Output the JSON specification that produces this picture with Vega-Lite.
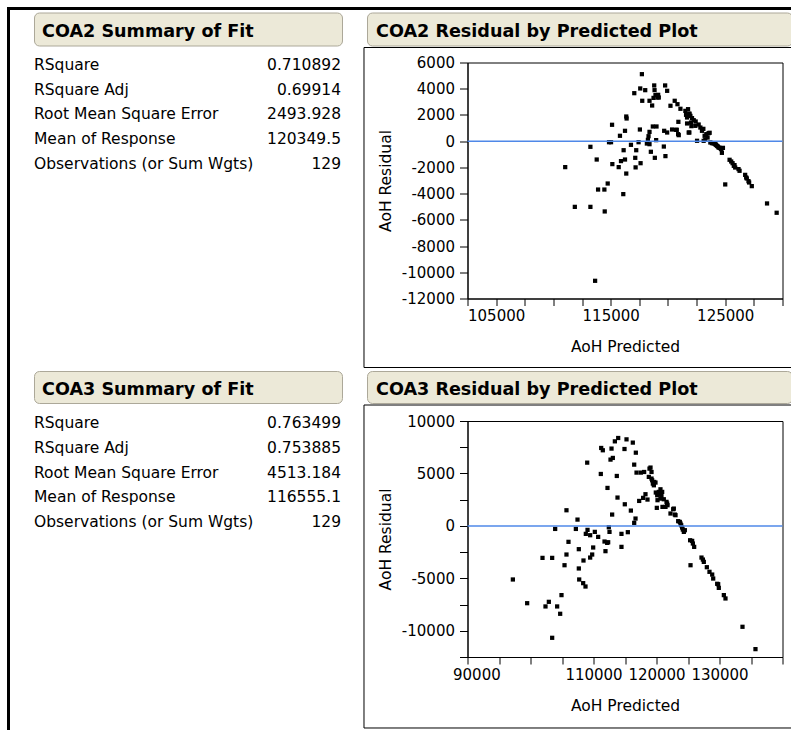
{
  "$schema": "https://vega.github.io/schema/vega-lite/v6.json",
  "padding": {"left": 7, "top": 7, "right": 0, "bottom": 0},
  "autosize": {"type": "pad"},
  "background": "white",
  "config": {
    "font": "DejaVu Sans",
    "view": {"stroke": null},
    "axis": {
      "labelFont": "DejaVu Sans", "labelFontSize": 15, "labelColor": "black",
      "titleFont": "DejaVu Sans", "titleFontSize": 15.5, "titleFontWeight": "normal", "titleColor": "black",
      "domainColor": "black", "tickColor": "black", "grid": false, "labelOverlap": false
    },
    "text": {"font": "DejaVu Sans", "color": "black"}
  },
  "datasets": {
    "fit2": [
      {"stat": "RSquare", "value": "0.710892"},
      {"stat": "RSquare Adj", "value": "0.69914"},
      {"stat": "Root Mean Square Error", "value": "2493.928"},
      {"stat": "Mean of Response", "value": "120349.5"},
      {"stat": "Observations (or Sum Wgts)", "value": "129"}
    ],
    "fit3": [
      {"stat": "RSquare", "value": "0.763499"},
      {"stat": "RSquare Adj", "value": "0.753885"},
      {"stat": "Root Mean Square Error", "value": "4513.184"},
      {"stat": "Mean of Response", "value": "116555.1"},
      {"stat": "Observations (or Sum Wgts)", "value": "129"}
    ],
    "coa2": [
      {"pred":111030,"resid":-1980},{"pred":111870,"resid":-5010},{"pred":113230,"resid":-430},{"pred":113230,"resid":-5010},
      {"pred":113640,"resid":-10650},{"pred":113780,"resid":-1400},{"pred":113900,"resid":-3690},{"pred":114450,"resid":-3690},
      {"pred":114480,"resid":-5360},{"pred":114740,"resid":-3230},{"pred":114855,"resid":-80},{"pred":115030,"resid":-80},
      {"pred":115120,"resid":1250},{"pred":115145,"resid":-1750},{"pred":115700,"resid":-1980},{"pred":115810,"resid":410},
      {"pred":115900,"resid":-1520},{"pred":116100,"resid":-4040},{"pred":116130,"resid":-690},{"pred":116250,"resid":790},
      {"pred":116250,"resid":-1400},{"pred":116360,"resid":1880},{"pred":116390,"resid":1730},{"pred":116360,"resid":-2470},
      {"pred":116770,"resid":-280},{"pred":117060,"resid":3660},{"pred":117145,"resid":-1270},{"pred":117175,"resid":-2000},
      {"pred":117230,"resid":-690},{"pred":117435,"resid":-80},{"pred":117550,"resid":890},{"pred":117610,"resid":-1680},
      {"pred":117580,"resid":4020},{"pred":117725,"resid":5110},{"pred":117755,"resid":3080},{"pred":118015,"resid":3890},
      {"pred":118160,"resid":-180},{"pred":118250,"resid":100},{"pred":118305,"resid":380},{"pred":118390,"resid":710},
      {"pred":118390,"resid":3080},{"pred":118390,"resid":-230},{"pred":118507,"resid":-810},{"pred":118620,"resid":2720},
      {"pred":118680,"resid":1120},{"pred":118740,"resid":3300},{"pred":118800,"resid":4250},{"pred":118830,"resid":3890},
      {"pred":118855,"resid":-1270},{"pred":118910,"resid":3510},{"pred":118970,"resid":80},{"pred":119000,"resid":1120},
      {"pred":119090,"resid":3330},{"pred":119145,"resid":3535},{"pred":119200,"resid":3330},{"pred":119640,"resid":-410},
      {"pred":119670,"resid":790},{"pred":119755,"resid":4250},{"pred":119780,"resid":-1140},{"pred":119930,"resid":3840},
      {"pred":119930,"resid":660},{"pred":120220,"resid":2700},{"pred":120360,"resid":890},{"pred":120590,"resid":3080},
      {"pred":120770,"resid":865},{"pred":120830,"resid":2820},{"pred":120910,"resid":1475},{"pred":120885,"resid":535},
      {"pred":121090,"resid":2470},{"pred":121520,"resid":2310},{"pred":121580,"resid":2010},{"pred":121755,"resid":2440},
      {"pred":121670,"resid":1350},{"pred":121810,"resid":660},{"pred":121870,"resid":2110},{"pred":121960,"resid":1930},
      {"pred":122015,"resid":1420},{"pred":122100,"resid":1755},{"pred":122045,"resid":1145},{"pred":122250,"resid":1600},
      {"pred":122540,"resid":30},{"pred":122420,"resid":1500},{"pred":122680,"resid":1270},{"pred":122830,"resid":1040},
      {"pred":122970,"resid":790},{"pred":123090,"resid":940},{"pred":123200,"resid":410},{"pred":123260,"resid":100},
      {"pred":123350,"resid":535},{"pred":123460,"resid":280},{"pred":123640,"resid":640},{"pred":123700,"resid":-100},
      {"pred":123990,"resid":-180},{"pred":124190,"resid":-280},{"pred":124360,"resid":-410},{"pred":124510,"resid":-510},
      {"pred":124620,"resid":-580},{"pred":124710,"resid":-890},{"pred":124800,"resid":-510},{"pred":125000,"resid":-3300},
      {"pred":125380,"resid":-1420},{"pred":125520,"resid":-1550},{"pred":125640,"resid":-1680},{"pred":125750,"resid":-1880},
      {"pred":125870,"resid":-2010},{"pred":126160,"resid":-2130},{"pred":126250,"resid":-2260},{"pred":126740,"resid":-2570},
      {"pred":126830,"resid":-2770},{"pred":127030,"resid":-3050},{"pred":127320,"resid":-3430},{"pred":128650,"resid":-4750},
      {"pred":129490,"resid":-5460},
      {"pred":121667,"resid":1806},{"pred":122391,"resid":1170},{"pred":123551,"resid":611},{"pred":124652,"resid":-609},
      {"pred":124130,"resid":-228},{"pred":125812,"resid":-1829},{"pred":126884,"resid":-2846},{"pred":127087,"resid":-3151},
      {"pred":120710,"resid":865},{"pred":120942,"resid":458},{"pred":121870,"resid":660},{"pred":123116,"resid":26},
      {"pred":123841,"resid":-152},{"pred":124275,"resid":-355},{"pred":124420,"resid":-482},{"pred":121870,"resid":2060}
    ],
    "coa3": [
      {"pred":97200,"resid":-5110},{"pred":99470,"resid":-7370},{"pred":101905,"resid":-3050},{"pred":102380,"resid":-7680},
      {"pred":102910,"resid":-7240},{"pred":103440,"resid":-3050},{"pred":103440,"resid":-10670},{"pred":103915,"resid":-290},
      {"pred":104230,"resid":-7680},{"pred":104710,"resid":-8380},{"pred":104920,"resid":-6600},{"pred":105400,"resid":-3750},
      {"pred":105710,"resid":1490},{"pred":105710,"resid":-2730},{"pred":106030,"resid":-1520},{"pred":107200,"resid":-290},
      {"pred":107460,"resid":600},{"pred":107670,"resid":-2220},{"pred":107670,"resid":-4060},{"pred":107730,"resid":-5110},
      {"pred":108360,"resid":-5460},{"pred":108410,"resid":-3300},{"pred":108730,"resid":-5780},{"pred":108780,"resid":-760},
      {"pred":109000,"resid":6030},{"pred":109050,"resid":-380},{"pred":109470,"resid":-890},{"pred":109470,"resid":-3020},
      {"pred":109790,"resid":-2730},{"pred":109950,"resid":-2060},{"pred":110210,"resid":-570},{"pred":110740,"resid":-1050},
      {"pred":111160,"resid":4950},{"pred":111220,"resid":7430},{"pred":111480,"resid":7210},{"pred":111750,"resid":-1490},
      {"pred":111900,"resid":-2410},{"pred":112220,"resid":3620},{"pred":112330,"resid":-1560},{"pred":112430,"resid":-130},
      {"pred":112540,"resid":-570},{"pred":112700,"resid":6320},{"pred":112860,"resid":7370},{"pred":112960,"resid":1080},
      {"pred":113070,"resid":6480},{"pred":113390,"resid":8060},{"pred":113700,"resid":4760},{"pred":113810,"resid":2700},
      {"pred":113920,"resid":8380},{"pred":114440,"resid":-760},{"pred":114440,"resid":-2000},{"pred":114920,"resid":7330},
      {"pred":114970,"resid":2060},{"pred":115240,"resid":8250},{"pred":115450,"resid":-600},{"pred":115930,"resid":1460},
      {"pred":116240,"resid":7940},{"pred":116460,"resid":5840},{"pred":116460,"resid":290},{"pred":116670,"resid":700},
      {"pred":116720,"resid":6980},{"pred":116830,"resid":5080},{"pred":117250,"resid":2380},{"pred":117510,"resid":5080},
      {"pred":117880,"resid":2670},{"pred":118040,"resid":5140},{"pred":118250,"resid":3020},{"pred":118570,"resid":2510},
      {"pred":118890,"resid":5460},{"pred":118780,"resid":4670},{"pred":119210,"resid":5140},{"pred":119210,"resid":4510},
      {"pred":119420,"resid":4030},{"pred":119630,"resid":4190},{"pred":119840,"resid":4130},{"pred":119890,"resid":3180},
      {"pred":120050,"resid":1720},{"pred":120160,"resid":2450},{"pred":120270,"resid":3080},{"pred":120480,"resid":2990},
      {"pred":120630,"resid":3490},{"pred":120790,"resid":2860},{"pred":120950,"resid":1810},{"pred":121160,"resid":2540},
      {"pred":121430,"resid":1810},{"pred":121590,"resid":2290},{"pred":121750,"resid":1970},{"pred":122220,"resid":1180},
      {"pred":122650,"resid":1590},{"pred":122910,"resid":1080},{"pred":123440,"resid":450},{"pred":123700,"resid":380},
      {"pred":123920,"resid":60},{"pred":124070,"resid":-160},{"pred":124180,"resid":-350},{"pred":124340,"resid":-570},
      {"pred":124500,"resid":-410},{"pred":125340,"resid":-1370},{"pred":125660,"resid":-1430},{"pred":125770,"resid":-1680},
      {"pred":125980,"resid":-2000},{"pred":125400,"resid":-3750},{"pred":127140,"resid":-3020},{"pred":127360,"resid":-3210},
      {"pred":127510,"resid":-3430},{"pred":127990,"resid":-3940},{"pred":128410,"resid":-4380},{"pred":128840,"resid":-4640},
      {"pred":129000,"resid":-5020},{"pred":129630,"resid":-5520},{"pred":129890,"resid":-5910},{"pred":130690,"resid":-6600},
      {"pred":130950,"resid":-6920},{"pred":133650,"resid":-9620},{"pred":135710,"resid":-11750},
      {"pred":112170,"resid":-1620},{"pred":120370,"resid":3240},{"pred":120900,"resid":3240},{"pred":120110,"resid":2920},
      {"pred":120630,"resid":2600},{"pred":121690,"resid":2130},{"pred":122750,"resid":1650},{"pred":123020,"resid":1020},
      {"pred":123810,"resid":220},{"pred":129790,"resid":-5560},{"pred":119050,"resid":5560},{"pred":119580,"resid":3870},
      {"pred":119310,"resid":4350}
    ]
  },
  "spacing": 0,
  "hconcat": [
    {"width": 3, "height": 723, "view": {"fill": "black", "stroke": null},
     "data": {"values": []}, "mark": "point", "encoding": {}},
    {
      "vconcat": [
        {"width": 781, "height": 3, "view": {"fill": "black", "stroke": null},
         "data": {"values": []}, "mark": "point", "encoding": {}},
        {
          "hconcat": [
            {"width": 22.5, "height": 1, "data": {"values": []}, "mark": "point", "encoding": {}},
            {
              "vconcat": [
                {
                  "vconcat": [
                    {
                      "hconcat": [
                        {"width": 308, "height": 33,
                         "view": {"fill": "#ECE9D8", "stroke": "#ACA899", "cornerRadius": 5},
                         "data": {"values": [{"title": "COA2 Summary of Fit"}]},
                         "mark": {"type": "text", "align": "left", "baseline": "alphabetic", "fontWeight": "bold", "fontSize": 17.6},
                         "encoding": {"text": {"field": "title"}, "x": {"value": 8}, "y": {"value": 24}}},
                        {"width": 425, "height": 33,
                         "view": {"fill": "#ECE9D8", "stroke": "#ACA899", "cornerRadius": 5},
                         "data": {"values": [{"title": "COA2 Residual by Predicted Plot"}]},
                         "mark": {"type": "text", "align": "left", "baseline": "alphabetic", "fontWeight": "bold", "fontSize": 17.6},
                         "encoding": {"text": {"field": "title"}, "x": {"value": 9}, "y": {"value": 24}}}
                      ],
                      "spacing": 23
                    },
                    {
                      "hconcat": [
                        {"width": 308, "height": 125,
                         "data": {"name": "fit2"},
                         "layer": [
                           {"mark": {"type": "text", "align": "left", "baseline": "middle", "fontSize": 15.5},
                            "encoding": {
                              "x": {"datum": "label", "type": "nominal", "scale": {"type": "point", "domain": ["label", "value"], "range": [0, 307], "padding": 0}, "axis": null},
                              "y": {"field": "stat", "type": "nominal", "sort": null, "scale": {"type": "point", "range": [2.3, 101.3], "padding": 0}, "axis": null},
                              "text": {"field": "stat"}}},
                           {"mark": {"type": "text", "align": "right", "baseline": "middle", "fontSize": 15.5},
                            "encoding": {
                              "x": {"datum": "value", "type": "nominal"},
                              "y": {"field": "stat", "type": "nominal", "sort": null},
                              "text": {"field": "value"}}}
                         ]},
                        {"width": 315, "height": 236,
                         "view": {"stroke": "black", "strokeWidth": 1},
                         "layer": [
                           {"data": {"name": "coa2"},
                            "mark": {"type": "square", "size": 18, "color": "black", "opacity": 1},
                            "encoding": {
                              "x": {"field": "pred", "type": "quantitative",
                                    "scale": {"domain": [102500, 130000], "nice": false, "zero": false},
                                    "axis": {"title": "AoH Predicted", "values": [102500,105000,107500,110000,112500,115000,117500,120000,122500,125000,127500,130000],
                                             "labelExpr": "datum.value == 105000 || datum.value == 115000 || datum.value == 125000 ? '' + datum.value : ''",
                                             "tickSize": 7, "labelPadding": 3, "titlePadding": 16, "labelFlush": false}},
                              "y": {"field": "resid", "type": "quantitative",
                                    "scale": {"domain": [-12000, 6000], "nice": false, "zero": false},
                                    "axis": {"title": "AoH Residual", "values": [-12000,-10000,-8000,-6000,-4000,-2000,0,2000,4000,6000],
                                             "labelExpr": "'' + datum.value",
                                             "tickSize": 8, "labelPadding": 5, "titlePadding": 8, "labelFlush": false}}}},
                           {"data": {"values": [{}]},
                            "mark": {"type": "rule", "color": "#4F88E8", "strokeWidth": 1.5},
                            "encoding": {
                              "y": {"datum": 0, "type": "quantitative",
                                    "scale": {"domain": [-12000, 6000], "nice": false, "zero": false},
                                    "axis": {"title": "AoH Residual", "values": [-12000,-10000,-8000,-6000,-4000,-2000,0,2000,4000,6000],
                                             "labelExpr": "'' + datum.value",
                                             "tickSize": 8, "labelPadding": 5, "titlePadding": 8, "labelFlush": false}}}},
                           {"data": {"values": [{}]},
                            "mark": {"type": "rule", "color": "black", "strokeWidth": 1},
                            "encoding": {
                              "x": {"datum": 93464, "type": "quantitative",
                                    "scale": {"domain": [102500, 130000], "nice": false, "zero": false},
                                    "axis": {"title": "AoH Predicted", "values": [102500,105000,107500,110000,112500,115000,117500,120000,122500,125000,127500,130000],
                                             "labelExpr": "datum.value == 105000 || datum.value == 115000 || datum.value == 125000 ? '' + datum.value : ''",
                                             "tickSize": 7, "labelPadding": 3, "titlePadding": 16, "labelFlush": false}},
                              "x2": {"datum": 130917},
                              "y": {"datum": 7144, "type": "quantitative",
                                    "scale": {"domain": [-12000, 6000], "nice": false, "zero": false},
                                    "axis": {"title": "AoH Residual", "values": [-12000,-10000,-8000,-6000,-4000,-2000,0,2000,4000,6000],
                                             "labelExpr": "'' + datum.value",
                                             "tickSize": 8, "labelPadding": 5, "titlePadding": 8, "labelFlush": false}}}},
                           {"data": {"values": [{}]},
                            "mark": {"type": "rule", "color": "black", "strokeWidth": 1},
                            "encoding": {
                              "x": {"datum": 93464, "type": "quantitative",
                                    "scale": {"domain": [102500, 130000], "nice": false, "zero": false},
                                    "axis": {"title": "AoH Predicted", "values": [102500,105000,107500,110000,112500,115000,117500,120000,122500,125000,127500,130000],
                                             "labelExpr": "datum.value == 105000 || datum.value == 115000 || datum.value == 125000 ? '' + datum.value : ''",
                                             "tickSize": 7, "labelPadding": 3, "titlePadding": 16, "labelFlush": false}},
                              "x2": {"datum": 130917},
                              "y": {"datum": -17263, "type": "quantitative",
                                    "scale": {"domain": [-12000, 6000], "nice": false, "zero": false},
                                    "axis": {"title": "AoH Residual", "values": [-12000,-10000,-8000,-6000,-4000,-2000,0,2000,4000,6000],
                                             "labelExpr": "'' + datum.value",
                                             "tickSize": 8, "labelPadding": 5, "titlePadding": 8, "labelFlush": false}}}},
                           {"data": {"values": [{}]},
                            "mark": {"type": "rule", "color": "black", "strokeWidth": 1},
                            "encoding": {
                              "x": {"datum": 93464, "type": "quantitative",
                                    "scale": {"domain": [102500, 130000], "nice": false, "zero": false},
                                    "axis": {"title": "AoH Predicted", "values": [102500,105000,107500,110000,112500,115000,117500,120000,122500,125000,127500,130000],
                                             "labelExpr": "datum.value == 105000 || datum.value == 115000 || datum.value == 125000 ? '' + datum.value : ''",
                                             "tickSize": 7, "labelPadding": 3, "titlePadding": 16, "labelFlush": false}},
                              "y": {"datum": 7144, "type": "quantitative",
                                    "scale": {"domain": [-12000, 6000], "nice": false, "zero": false},
                                    "axis": {"title": "AoH Residual", "values": [-12000,-10000,-8000,-6000,-4000,-2000,0,2000,4000,6000],
                                             "labelExpr": "'' + datum.value",
                                             "tickSize": 8, "labelPadding": 5, "titlePadding": 8, "labelFlush": false}},
                              "y2": {"datum": -17263}}}
                         ]}
                      ],
                      "spacing": 20.5
                    }
                  ],
                  "spacing": 0
                },
                {
                  "vconcat": [
                    {
                      "hconcat": [
                        {"width": 308, "height": 32,
                         "view": {"fill": "#ECE9D8", "stroke": "#ACA899", "cornerRadius": 5},
                         "data": {"values": [{"title": "COA3 Summary of Fit"}]},
                         "mark": {"type": "text", "align": "left", "baseline": "alphabetic", "fontWeight": "bold", "fontSize": 17.6},
                         "encoding": {"text": {"field": "title"}, "x": {"value": 8}, "y": {"value": 23.5}}},
                        {"width": 425, "height": 32,
                         "view": {"fill": "#ECE9D8", "stroke": "#ACA899", "cornerRadius": 5},
                         "data": {"values": [{"title": "COA3 Residual by Predicted Plot"}]},
                         "mark": {"type": "text", "align": "left", "baseline": "alphabetic", "fontWeight": "bold", "fontSize": 17.6},
                         "encoding": {"text": {"field": "title"}, "x": {"value": 9}, "y": {"value": 23.5}}}
                      ],
                      "spacing": 23
                    },
                    {
                      "hconcat": [
                        {"width": 308, "height": 125,
                         "data": {"name": "fit3"},
                         "layer": [
                           {"mark": {"type": "text", "align": "left", "baseline": "middle", "fontSize": 15.5},
                            "encoding": {
                              "x": {"datum": "label", "type": "nominal", "scale": {"type": "point", "domain": ["label", "value"], "range": [0, 307], "padding": 0}, "axis": null},
                              "y": {"field": "stat", "type": "nominal", "sort": null, "scale": {"type": "point", "range": [2, 101], "padding": 0}, "axis": null},
                              "text": {"field": "stat"}}},
                           {"mark": {"type": "text", "align": "right", "baseline": "middle", "fontSize": 15.5},
                            "encoding": {
                              "x": {"datum": "value", "type": "nominal"},
                              "y": {"field": "stat", "type": "nominal", "sort": null},
                              "text": {"field": "value"}}}
                         ]},
                        {"width": 315, "height": 236,
                         "view": {"stroke": "black", "strokeWidth": 1},
                         "layer": [
                           {"data": {"name": "coa3"},
                            "mark": {"type": "square", "size": 18, "color": "black", "opacity": 1},
                            "encoding": {
                              "x": {"field": "pred", "type": "quantitative",
                                    "scale": {"domain": [90000, 140000], "nice": false, "zero": false},
                                    "axis": {"title": "AoH Predicted", "values": [90000,95000,100000,105000,110000,115000,120000,125000,130000,135000,140000],
                                             "labelExpr": "datum.value == 90000 || datum.value == 110000 || datum.value == 120000 || datum.value == 130000 ? '' + datum.value : ''",
                                             "tickSize": 7, "labelPadding": 3, "titlePadding": 16, "labelFlush": true, "labelFlushOffset": 15}},
                              "y": {"field": "resid", "type": "quantitative",
                                    "scale": {"domain": [-12500, 10000], "nice": false, "zero": false},
                                    "axis": {"title": "AoH Residual", "values": [-12500,-10000,-7500,-5000,-2500,0,2500,5000,7500,10000],
                                             "labelExpr": "datum.value % 5000 == 0 ? '' + datum.value : ''",
                                             "tickSize": 8, "labelPadding": 5, "titlePadding": 8, "labelFlush": false}}}},
                           {"data": {"values": [{}]},
                            "mark": {"type": "rule", "color": "#4F88E8", "strokeWidth": 1.5},
                            "encoding": {
                              "y": {"datum": 0, "type": "quantitative",
                                    "scale": {"domain": [-12500, 10000], "nice": false, "zero": false},
                                    "axis": {"title": "AoH Residual", "values": [-12500,-10000,-7500,-5000,-2500,0,2500,5000,7500,10000],
                                             "labelExpr": "datum.value % 5000 == 0 ? '' + datum.value : ''",
                                             "tickSize": 8, "labelPadding": 5, "titlePadding": 8, "labelFlush": false}}}},
                           {"data": {"values": [{}]},
                            "mark": {"type": "rule", "color": "black", "strokeWidth": 1},
                            "encoding": {
                              "x": {"datum": 73571, "type": "quantitative",
                                    "scale": {"domain": [90000, 140000], "nice": false, "zero": false},
                                    "axis": {"title": "AoH Predicted", "values": [90000,95000,100000,105000,110000,115000,120000,125000,130000,135000,140000],
                                             "labelExpr": "datum.value == 90000 || datum.value == 110000 || datum.value == 120000 || datum.value == 130000 ? '' + datum.value : ''",
                                             "tickSize": 7, "labelPadding": 3, "titlePadding": 16, "labelFlush": true, "labelFlushOffset": 15}},
                              "x2": {"datum": 141667},
                              "y": {"datum": 11525, "type": "quantitative",
                                    "scale": {"domain": [-12500, 10000], "nice": false, "zero": false},
                                    "axis": {"title": "AoH Residual", "values": [-12500,-10000,-7500,-5000,-2500,0,2500,5000,7500,10000],
                                             "labelExpr": "datum.value % 5000 == 0 ? '' + datum.value : ''",
                                             "tickSize": 8, "labelPadding": 5, "titlePadding": 8, "labelFlush": false}}}},
                           {"data": {"values": [{}]},
                            "mark": {"type": "rule", "color": "black", "strokeWidth": 1},
                            "encoding": {
                              "x": {"datum": 73571, "type": "quantitative",
                                    "scale": {"domain": [90000, 140000], "nice": false, "zero": false},
                                    "axis": {"title": "AoH Predicted", "values": [90000,95000,100000,105000,110000,115000,120000,125000,130000,135000,140000],
                                             "labelExpr": "datum.value == 90000 || datum.value == 110000 || datum.value == 120000 || datum.value == 130000 ? '' + datum.value : ''",
                                             "tickSize": 7, "labelPadding": 3, "titlePadding": 16, "labelFlush": true, "labelFlushOffset": 15}},
                              "x2": {"datum": 141667},
                              "y": {"datum": -19269, "type": "quantitative",
                                    "scale": {"domain": [-12500, 10000], "nice": false, "zero": false},
                                    "axis": {"title": "AoH Residual", "values": [-12500,-10000,-7500,-5000,-2500,0,2500,5000,7500,10000],
                                             "labelExpr": "datum.value % 5000 == 0 ? '' + datum.value : ''",
                                             "tickSize": 8, "labelPadding": 5, "titlePadding": 8, "labelFlush": false}}}},
                           {"data": {"values": [{}]},
                            "mark": {"type": "rule", "color": "black", "strokeWidth": 1},
                            "encoding": {
                              "x": {"datum": 73571, "type": "quantitative",
                                    "scale": {"domain": [90000, 140000], "nice": false, "zero": false},
                                    "axis": {"title": "AoH Predicted", "values": [90000,95000,100000,105000,110000,115000,120000,125000,130000,135000,140000],
                                             "labelExpr": "datum.value == 90000 || datum.value == 110000 || datum.value == 120000 || datum.value == 130000 ? '' + datum.value : ''",
                                             "tickSize": 7, "labelPadding": 3, "titlePadding": 16, "labelFlush": true, "labelFlushOffset": 15}},
                              "y": {"datum": 11525, "type": "quantitative",
                                    "scale": {"domain": [-12500, 10000], "nice": false, "zero": false},
                                    "axis": {"title": "AoH Residual", "values": [-12500,-10000,-7500,-5000,-2500,0,2500,5000,7500,10000],
                                             "labelExpr": "datum.value % 5000 == 0 ? '' + datum.value : ''",
                                             "tickSize": 8, "labelPadding": 5, "titlePadding": 8, "labelFlush": false}},
                              "y2": {"datum": -19269}}}
                         ]}
                      ],
                      "spacing": 20.5
                    }
                  ],
                  "spacing": 0
                }
              ],
              "spacing": 0.5
            }
          ],
          "spacing": 0
        }
      ],
      "spacing": 1.5
    }
  ]
}
